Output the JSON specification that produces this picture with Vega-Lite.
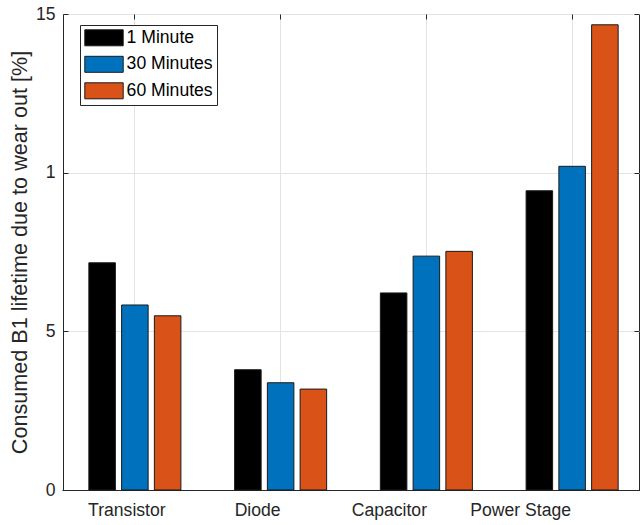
{
  "$schema": "https://vega.github.io/schema/vega-lite/v6.json",
  "width": 576,
  "height": 476,
  "autosize": {"type": "none"},
  "padding": {"left": 63, "top": 14, "right": 1, "bottom": 35},
  "background": "white",
  "data": {
    "values": [
      {"component": "Transistor", "duration": "1 Minute", "value": 0.716},
      {"component": "Transistor", "duration": "30 Minutes", "value": 0.583},
      {"component": "Transistor", "duration": "60 Minutes", "value": 0.549},
      {"component": "Diode", "duration": "1 Minute", "value": 0.379},
      {"component": "Diode", "duration": "30 Minutes", "value": 0.338},
      {"component": "Diode", "duration": "60 Minutes", "value": 0.318},
      {"component": "Capacitor", "duration": "1 Minute", "value": 0.621},
      {"component": "Capacitor", "duration": "30 Minutes", "value": 0.737},
      {"component": "Capacitor", "duration": "60 Minutes", "value": 0.752},
      {"component": "Power Stage", "duration": "1 Minute", "value": 0.943},
      {"component": "Power Stage", "duration": "30 Minutes", "value": 1.02},
      {"component": "Power Stage", "duration": "60 Minutes", "value": 1.466}
    ]
  },
  "layer": [
    {
      "mark": {"type": "bar", "stroke": "#1a1a1a", "strokeWidth": 1},
      "encoding": {
        "x": {
          "field": "component",
          "type": "nominal",
          "sort": ["Transistor", "Diode", "Capacitor", "Power Stage"],
          "scale": {"range": [-1, 582], "paddingInner": 0, "paddingOuter": 0},
          "axis": {
            "title": null,
            "orient": "bottom",
            "labelAngle": 0,
            "labelFontSize": 17.6,
            "labelColor": "#262626",
            "tickSize": -5,
            "labelPadding": 16,
            "grid": true,
            "labelOffset": {
              "condition": [
                {"test": "datum.value === 'Transistor'", "value": -8},
                {"test": "datum.value === 'Diode'", "value": -23},
                {"test": "datum.value === 'Capacitor'", "value": -37}
              ],
              "value": -51.5
            }
          }
        },
        "xOffset": {
          "field": "duration",
          "type": "nominal",
          "sort": ["1 Minute", "30 Minutes", "60 Minutes"],
          "scale": {"paddingInner": 0.19, "paddingOuter": 0.82}
        },
        "y": {
          "field": "value",
          "type": "quantitative",
          "scale": {"domain": [0, 1.5], "nice": false},
          "axis": {
            "values": [0, 0.5, 1, 1.5],
            "labelExpr": "datum.value == 0 ? '0' : datum.value == 0.5 ? '5' : datum.value == 1 ? '1' : '15'",
            "labelFontSize": 17.6,
            "labelColor": "#262626",
            "tickSize": -5,
            "labelPadding": 13,
            "grid": true,
            "title": "Consumed B1 lifetime due to wear out [%]",
            "titleFontSize": 21.6,
            "titleFontWeight": "normal",
            "titleColor": "#262626",
            "titlePadding": 4
          }
        },
        "color": {
          "field": "duration",
          "type": "nominal",
          "sort": ["1 Minute", "30 Minutes", "60 Minutes"],
          "scale": {
            "domain": ["1 Minute", "30 Minutes", "60 Minutes"],
            "range": ["#000000", "#0072BD", "#D95319"]
          },
          "legend": {
            "title": null,
            "orient": "none",
            "legendX": 17,
            "legendY": 11,
            "fillColor": "white",
            "strokeColor": "#262626",
            "padding": 4,
            "symbolType": "M-1,-1H3.8V1H-1Z",
            "symbolSize": 256,
            "symbolStrokeColor": "#1a1a1a",
            "symbolStrokeWidth": 1,
            "symbolOpacity": 1,
            "labelFontSize": 17.6,
            "labelColor": "#000000",
            "labelOffset": 25,
            "rowPadding": 5.5
          }
        }
      }
    },
    {
      "mark": {"type": "bar", "opacity": 0},
      "encoding": {
        "x": {
          "field": "component",
          "type": "nominal",
          "sort": ["Transistor", "Diode", "Capacitor", "Power Stage"],
          "axis": {"orient": "top", "title": null, "labels": false, "tickSize": -5, "domain": false, "grid": false}
        },
        "y": {
          "field": "value",
          "type": "quantitative",
          "axis": {"orient": "right", "title": null, "labels": false, "values": [0, 0.5, 1, 1.5], "tickSize": -5, "domain": false, "grid": false}
        }
      }
    }
  ],
  "resolve": {"axis": {"x": "independent", "y": "independent"}},
  "config": {
    "font": "Liberation Sans",
    "view": {"stroke": "#262626", "strokeWidth": 1},
    "axis": {
      "domainColor": "#262626",
      "tickColor": "#262626",
      "gridColor": "#e3e3e3",
      "gridWidth": 1,
      "labelFont": "Liberation Sans",
      "titleFont": "Liberation Sans"
    },
    "legend": {"labelFont": "Liberation Sans"}
  }
}
